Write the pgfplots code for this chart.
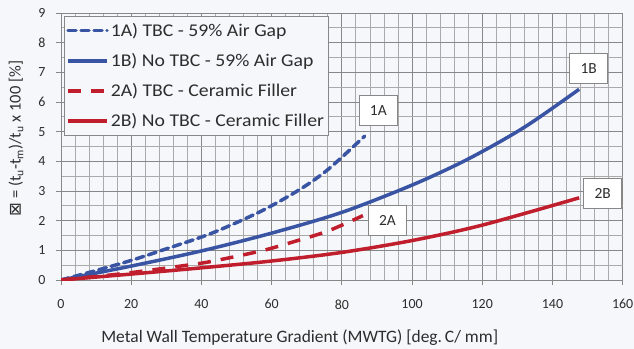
\documentclass[border=0pt]{standalone}
\usepackage{pgfplots}
\pgfplotsset{compat=1.18}
\usepackage{fontspec}
\setmainfont{Carlito}
\newfontfamily\symfont{DejaVu Sans}
\newfontfamily\widea{Carlito}[FakeStretch=1.10]
\definecolor{bg}{RGB}{245,247,250}
\definecolor{gmaj}{RGB}{135,135,135}
\definecolor{gmin}{RGB}{170,170,170}
\definecolor{cblue}{RGB}{58,84,164}
\definecolor{cred}{RGB}{192,30,45}
\definecolor{txt}{RGB}{45,45,45}
\begin{document}
\begin{tikzpicture}
\useasboundingbox (-61bp,-69bp) rectangle (573bp,280bp);
\fill[bg] (-61bp,-69bp) rectangle (573bp,280bp);
\begin{axis}[
  scale only axis, width=561.7bp, height=267bp,
  xmin=0, xmax=160, ymin=0, ymax=9,
  xtick={0,20,...,160}, ytick={0,1,...,9},
  minor x tick num=4, minor y tick num=1,
  grid=both,
  major grid style={gmaj, line width=0.9bp},
  minor grid style={gmin, line width=0.8bp},
  axis lines=left,
  axis line style={gmaj, -, line width=0.9bp},
  tick align=outside, major tick length=5bp, minor tick length=0pt,
  tick style={gmaj, line width=0.9bp},
  ticklabel style={font=\fontsize{14}{15}\selectfont, text=txt},
  xticklabel style={yshift=-11bp},
  yticklabel style={xshift=-7bp},
  /pgf/number format/assume math mode=true,
  xlabel={Metal Wall Temperature Gradient (MWTG) [deg.\,C/ mm]},
  xlabel style={at={(axis description cs:0.425,-0.217)}, anchor=center, font=\fontsize{17.5}{19}\selectfont, text=txt},
  ylabel={{\symfont ⊠} = (t\textsubscript{u}-t\textsubscript{m})/t\textsubscript{u} x 100 [\%]},
  ylabel style={at={(axis description cs:-0.080,0.53)}, anchor=center, font=\fontsize{16.5}{18}\selectfont, text=txt},
  legend style={at={(axis description cs:0.005,0.989)}, anchor=north west, fill=bg, draw=gmaj, line width=0.9bp,
    font=\widea\fontsize{18}{20}\selectfont, text=txt, row sep=11.5bp, inner xsep=2bp, inner ysep=5bp},
  legend cell align=left,
  legend image code/.code={\draw[#1] (0bp,0bp) -- (39bp,0bp);},
  every axis plot/.append style={line width=3.5bp, smooth},
]
\addplot[cblue, dash pattern=on 8bp off 5bp, line cap=round] coordinates {
 (0,0) (10,0.32) (20,0.66) (30,1.05) (43,1.58) (57,2.32) (68,3.05) (76,3.72) (86.5,4.85)};
\addlegendentry{1A) TBC - 59\% Air Gap}
\addplot[cblue] coordinates {
 (0,0) (20,0.47) (40,0.98) (60,1.58) (80,2.28) (100,3.2) (116,4.08) (132,5.15) (147.6,6.43)};
\addlegendentry{1B) No TBC - 59\% Air Gap}
\addplot[cred, dash pattern=on 13bp off 10bp] coordinates {
 (0,0) (18,0.22) (36,0.5) (43,0.63) (57,0.98) (66,1.28) (76,1.65) (86,2.17)};
\addlegendentry{2A) TBC - Ceramic Filler}
\addplot[cred] coordinates {
 (0,0) (20,0.2) (40,0.41) (60,0.64) (80,0.93) (100,1.33) (120,1.85) (147.6,2.77)};
\addlegendentry{2B) No TBC - Ceramic Filler}
\tikzset{lab/.style={draw=gmaj, fill=white, line width=0.9bp, minimum width=38bp, minimum height=30bp, inner sep=0pt, font=\fontsize{15.5}{17}\selectfont, text=txt}}
\node[lab] at (axis cs:90.4,5.71) {1A};
\node[lab] at (axis cs:150.3,7.13) {1B};
\node[lab] at (axis cs:93.0,2.0) {2A};
\node[lab] at (axis cs:154.3,2.93) {2B};
\end{axis}
\end{tikzpicture}
\end{document}
